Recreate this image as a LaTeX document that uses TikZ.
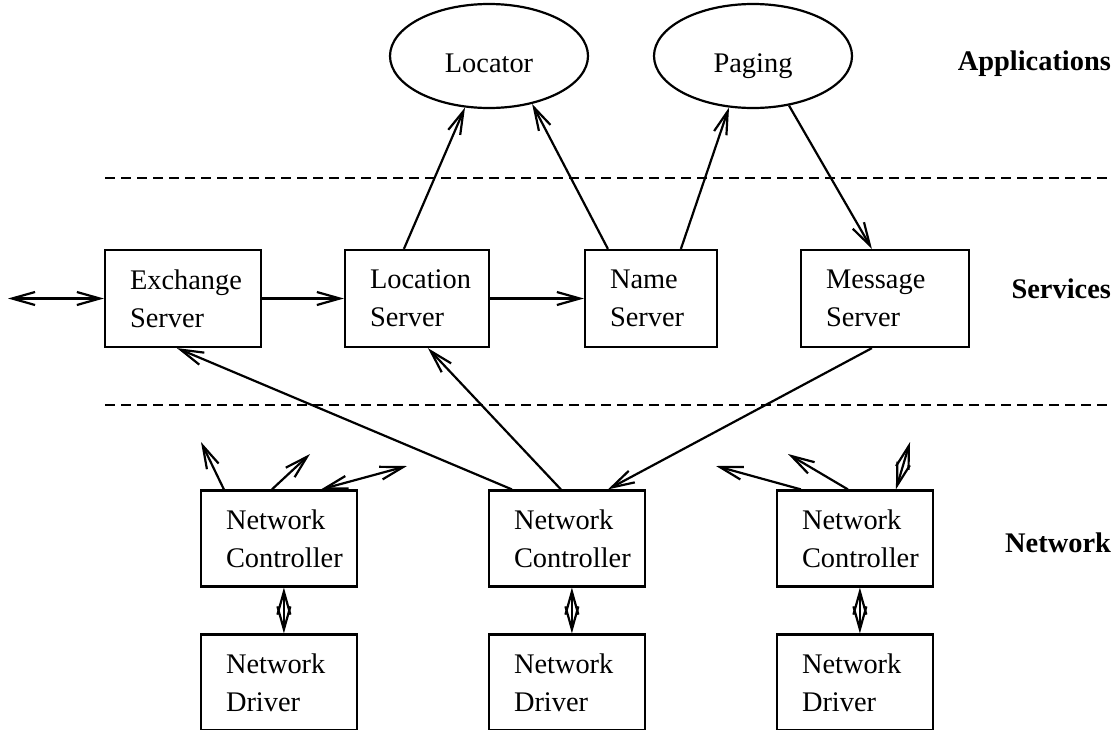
\documentclass[tikz,border=0pt]{standalone}
\usepackage{fontspec}
\setmainfont{Liberation Serif}
\usetikzlibrary{positioning, shapes, arrows.meta}
\hyphenpenalty=10000

\begin{document}
\begin{tikzpicture}[x=0.5pt, y=-0.5pt, line width=1.1pt,
    font=\fontsize{14.2}{19}\selectfont,
    >={Straight Barb[length=11.5pt, width=6.5pt]},
    app/.style={draw, ellipse, minimum width=99pt, minimum height=52pt, inner sep=0pt,
        text height=16pt, text depth=0pt},
    srv/.style={draw, rectangle, align=left, inner xsep=12.5pt, inner ysep=0pt,
        minimum height=48.5pt, text width=#1},
    ctl/.style={draw, rectangle, align=left, inner xsep=12.5pt, inner ysep=0pt,
        minimum height=48pt, text width=53pt},
    tierlabel/.style={font=\fontsize{14.2}{19}\selectfont\bfseries, anchor=base east, inner sep=0pt},
    tierline/.style={dash pattern=on 5pt off 3pt}]

    \useasboundingbox (0,0) rectangle (1117,729);
    \clip (0,0) rectangle (1117,729);

    % Applications
    \node[app] (locator) at (489,56) {Locator};
    \node[app] (paging) at (753,56) {Paging};

    % Layer names
    \node[tierlabel] (apps) at (1112,70) {Applications};
    \node[tierlabel] (svcs) at (1112,298) {Services};
    \node[tierlabel] (net) at (1112,552) {Network};

    \draw[tierline] (105,178) -- (1108,178);
    \draw[tierline] (105,405) -- (1108,405);

    % Services
    \node[srv=53pt] (exch) at (183,298.5) {Exchange\\Server};
    \node[srv=47pt] (locsrv) at (417,298.5) {Location\\Server};
    \node[srv=41pt] (namesrv) at (651,298.5) {Name\\Server};
    \node[srv=59pt] (msgsrv) at (885,298.5) {Message\\Server};

    % Network
    \node[ctl] (ctlA) at (279,538.5) {Network\\Controller};
    \node[ctl] (ctlB) at (567,538.5) {Network\\Controller};
    \node[ctl] (ctlC) at (855,538.5) {Network\\Controller};
    \node[ctl] (drvA) at (279,682.5) {Network\\Driver};
    \node[ctl] (drvB) at (567,682.5) {Network\\Driver};
    \node[ctl] (drvC) at (855,682.5) {Network\\Driver};

    \coordinate (ext) at (8,298.5);
    \coordinate (a1) at (201,442);
    \coordinate (a2) at (310,454);
    \coordinate (a3) at (407,466);
    \coordinate (c1) at (716,466);
    \coordinate (c2) at (788,454);
    \coordinate (c3) at (910,442);

    % Draw edges
    \draw[<->] (ext) -- (exch.west);
    \draw[->] (exch.east) -- (locsrv.west);
    \draw[->] (locsrv.east) -- (namesrv.west);
    \draw[->] ([xshift=30pt]locsrv.north west) -- (locator.245);
    \draw[->] ([xshift=12pt]namesrv.north west) -- (locator.312);
    \draw[->] ([xshift=48.5pt]namesrv.north west) -- (paging.245);
    \draw[->] (paging.306) -- ([xshift=36pt]msgsrv.north west);

    \draw[->] ([xshift=12pt]ctlB.north west) -- ([xshift=36.5pt]exch.south west);
    \draw[->] ([xshift=36.5pt]ctlB.north west) -- ([xshift=42pt]locsrv.south west);
    \draw[->] ([xshift=36pt]msgsrv.south west) -- ([xshift=60pt]ctlB.north west);

    \draw[->] ([xshift=12pt]ctlA.north west) -- (a1);
    \draw[->] ([xshift=36pt]ctlA.north west) -- (a2);
    \draw[<->] ([xshift=60.5pt]ctlA.north west) -- (a3);
    \draw[->] ([xshift=12.5pt]ctlC.north west) -- (c1);
    \draw[->] ([xshift=36pt]ctlC.north west) -- (c2);
    \draw[<->] ([xshift=60pt]ctlC.north west) -- (c3);

    \foreach \n in {A,B,C}
        \draw[<->] ([xshift=42pt]ctl\n.south west) -- ([xshift=42pt]drv\n.north west);

\end{tikzpicture}
\end{document}
